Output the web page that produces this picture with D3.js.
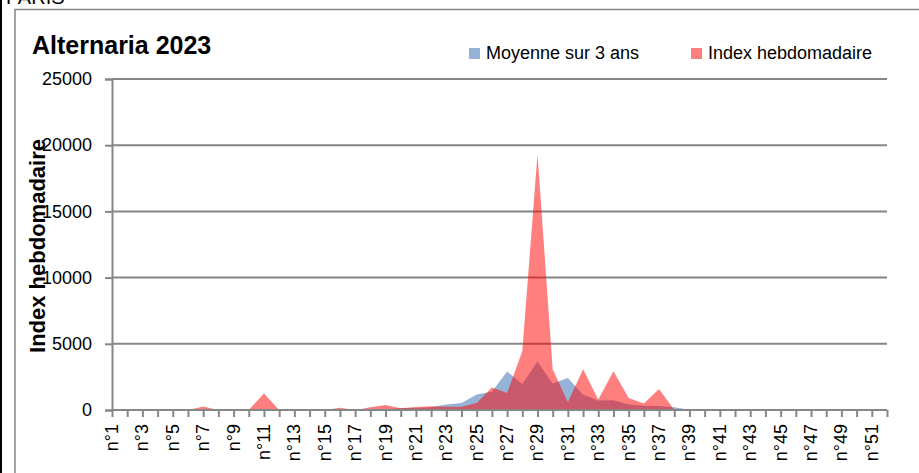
<!DOCTYPE html>
<html>
<head>
<meta charset="utf-8">
<script src="https://cdn.jsdelivr.net/npm/d3@7"></script>
<style>
  html, body { margin: 0; padding: 0; background: #fff; }
  svg { display: block; font-family: 'Liberation Sans', Arial, sans-serif; }
</style>
</head>
<body>
<svg id="chart" width="919" height="473"></svg>
<script>
// weeks n°1 .. n°52
const weeks = d3.range(1, 53).map(i => `n°${i}`)

// Moyenne sur 3 ans
const moyenne = [
  0, 0, 0, 0, 0, 0, 0, 60, 0, 0,
  0, 0, 0, 0, 0, 30, 20, 40, 60, 150,
  150, 200, 420, 530, 1180, 1380, 2900, 1960, 3670, 2010,
  2420, 1160, 720, 730, 420, 330, 300, 200, 20, 0,
  0, 0, 0, 0, 0, 0, 0, 0, 0, 0,
  0, 0
]

// Index hebdomadaire 2023
const indexHebdo = [
  0, 0, 0, 0, 0, 0, 270, 0, 0, 0,
  1250, 0, 0, 0, 0, 170, 0, 200, 380, 130,
  230, 280, 250, 250, 520, 1690, 1280, 4430, 19330, 3070,
  580, 3070, 800, 2920, 900, 500, 1590, 0, 0, 0,
  0, 0, 0, 0, 0, 0, 0, 0, 0, 0,
  0, 0
]

const yTicks = [0, 5000, 10000, 15000, 20000, 25000]

const seriesNames = ['Moyenne sur 3 ans', 'Index hebdomadaire']
const seriesFill = ['rgba(79,129,189,0.6)', 'rgba(255,0,0,0.5)']
const legendSwatch = ['#95b3d7', '#ff7f80']

const svg = d3.select('#chart')
const gridColor = '#868686'

const x = d3.scalePoint().domain(weeks).range([112, 887])
const y = d3.scaleLinear().domain([0, 25000]).range([410, 79])

// outer frame bits
svg.append('line').attr('x1', 1).attr('x2', 1).attr('y1', 0).attr('y2', 473)
  .attr('stroke', '#000').attr('stroke-width', 2)
svg.append('text').attr('x', 6).attr('y', 4).attr('font-size', 20).text('PARIS')
svg.append('path').attr('d', 'M15,473V9.5H919')
  .attr('fill', 'none').attr('stroke', gridColor).attr('stroke-width', 1.5)

// gridlines
svg.append('g').selectAll('line').data(yTicks.slice(1)).enter().append('line')
  .attr('x1', 112).attr('x2', 887)
  .attr('y1', d => y(d)).attr('y2', d => y(d))
  .attr('stroke', gridColor).attr('stroke-width', 2)

// areas
const series = [moyenne, indexHebdo]
const area = d3.area()
  .x((d, i) => x(weeks[i]))
  .y0(y(0))
  .y1(d => y(d))

svg.append('g').selectAll('path').data(series).enter().append('path')
  .attr('d', d => area(d))
  .attr('fill', (d, i) => seriesFill[i])

// y axis
const yAxis = svg.append('g').attr('transform', 'translate(112,0)')
  .call(d3.axisLeft(y).tickValues(yTicks).tickSize(7).tickPadding(13).tickFormat(d3.format('d')))
yAxis.select('.domain').attr('stroke', gridColor).attr('stroke-width', 2)
yAxis.selectAll('.tick line').attr('stroke', gridColor).attr('stroke-width', 2)
yAxis.selectAll('.tick text').attr('font-size', 18).attr('fill', '#000')
  .attr('font-family', "'Liberation Sans', Arial, sans-serif")

// x axis
const xAxis = svg.append('g').attr('transform', 'translate(0,410)')
  .call(d3.axisBottom(x).tickSize(7).tickSizeOuter(0).tickFormat(''))
xAxis.select('.domain').attr('stroke', gridColor).attr('stroke-width', 2)
  .attr('d', 'M112,0H887')
xAxis.selectAll('.tick line').attr('stroke', gridColor).attr('stroke-width', 2)

svg.append('g').selectAll('text').data(weeks.filter((d, i) => i % 2 === 0)).enter().append('text')
  .attr('transform', d => `translate(${x(d) + 6},424) rotate(-90)`)
  .attr('text-anchor', 'end')
  .attr('font-size', 18)
  .text(d => d)

// titles
svg.append('text').attr('x', 32).attr('y', 54)
  .attr('font-size', 25).attr('font-weight', 'bold').text('Alternaria 2023')

svg.append('text')
  .attr('transform', 'translate(45,246) rotate(-90)')
  .attr('text-anchor', 'middle')
  .attr('font-size', 22).attr('font-weight', 'bold')
  .text('Index hebdomadaire')

// legend
const legendX = [469, 691]
const legend = svg.append('g').selectAll('g').data(seriesNames).enter().append('g')
  .attr('transform', (d, i) => `translate(${legendX[i]},48)`)
legend.append('rect').attr('width', 11).attr('height', 11)
  .attr('fill', (d, i) => legendSwatch[i])
legend.append('text').attr('x', 17).attr('y', 11)
  .attr('font-size', 18).text(d => d)
</script>
</body>
</html>
